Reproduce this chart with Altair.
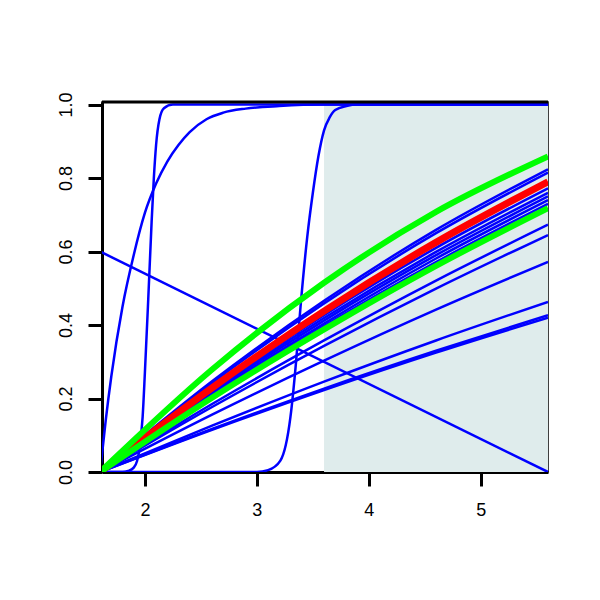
import altair as alt
import pandas as pd

# ---- data ----
x_grid = [1.6, 2.6, 3.6, 4.6, 5.6]

blue_upper1 = [0, 0.247, 0.466, 0.659, 0.824]
blue_upper2 = [0, 0.242, 0.459, 0.650, 0.815]
red_curve = [0, 0.229, 0.438, 0.625, 0.790]
blue_mid1 = [0, 0.224, 0.427, 0.610, 0.772]
blue_mid2 = [0, 0.219, 0.419, 0.599, 0.760]
blue_mid3 = [0, 0.215, 0.412, 0.590, 0.750]
blue_mid4 = [0, 0.211, 0.404, 0.581, 0.740]
blue_mid5 = [0, 0.206, 0.397, 0.571, 0.730]
green_top = [0, 0.279, 0.515, 0.708, 0.859]
green_bottom = [0, 0.202, 0.388, 0.561, 0.718]
blue_low1 = [0, 0.185, 0.358, 0.521, 0.673]
blue_low2 = [0, 0.177, 0.343, 0.499, 0.645]
blue_low3 = [0, 0.156, 0.303, 0.442, 0.572]
blue_low4 = [0, 0.126, 0.246, 0.358, 0.463]
blue_low5 = [0, 0.117, 0.227, 0.330, 0.427]
blue_low6 = [0, 0.115, 0.223, 0.325, 0.420]

# steep curve near x = 2.05
steepA_x = [1.6, 1.8, 1.85, 1.9, 1.93, 1.95, 1.98, 2.0, 2.03, 2.06, 2.08, 2.1, 2.13, 2.17, 2.25, 5.6]
steepA_y = [0, 0, 0.003, 0.012, 0.03, 0.06, 0.15, 0.27, 0.47, 0.68, 0.80, 0.89, 0.96, 0.99, 1.0, 1.0]

# concave fast-rising curve from the origin
fastB_x = [1.6, 1.65, 1.7, 1.8, 1.9, 2.0, 2.1, 2.2, 2.3, 2.4, 2.55, 2.7, 2.9, 3.2, 3.6, 5.6]
fastB_y = [0, 0.14, 0.26, 0.45, 0.59, 0.705, 0.785, 0.845, 0.89, 0.925, 0.96, 0.978, 0.989, 0.996, 1.0, 1.0]

# steep curve near x = 3.4
steepC_x = [1.6, 3.0, 3.1, 3.21, 3.3, 3.35, 3.39, 3.45, 3.5, 3.55, 3.6, 3.65, 3.7, 3.8, 3.9, 5.6]
steepC_y = [0, 0, 0.005, 0.031, 0.15, 0.30, 0.45, 0.64, 0.76, 0.86, 0.93, 0.965, 0.985, 0.996, 1.0, 1.0]

# decreasing straight line
falling_x = [1.6, 5.6]
falling_y = [0.6, 0.0]

shade_x = [3.6, 5.6]
shade_y = [0.0, 1.0]

x_ticks = [2, 3, 4, 5]
y_ticks = [0.0, 0.2, 0.4, 0.6, 0.8, 1.0]

X_DOMAIN = [1.617, 5.6]
Y_DOMAIN = [0, 1.007]

rows = []
def add(name, xs, ys, group):
    for xv, yv in zip(xs, ys):
        rows.append({"id": name, "x": xv, "y": yv, "group": group})

for nm, ys in [("bu1", blue_upper1), ("bu2", blue_upper2), ("bm1", blue_mid1),
               ("bm2", blue_mid2), ("bm3", blue_mid3), ("bm4", blue_mid4),
               ("bm5", blue_mid5), ("bl1", blue_low1), ("bl2", blue_low2),
               ("bl3", blue_low3), ("bl4", blue_low4), ("bl5", blue_low5),
               ("bl6", blue_low6)]:
    add(nm, x_grid, ys, "blue_smooth")
add("A", steepA_x, steepA_y, "blue_steep")
add("B", fastB_x, fastB_y, "blue_steep")
add("C", steepC_x, steepC_y, "blue_steep")
add("F", falling_x, falling_y, "blue_steep")
add("red", x_grid, red_curve, "red")
add("g1", x_grid, green_top, "green")
add("g2", x_grid, green_bottom, "green")
df = pd.DataFrame(rows)

xs = alt.Scale(domain=X_DOMAIN, nice=False, zero=False)
ys = alt.Scale(domain=Y_DOMAIN, nice=False, zero=False)

font = "Liberation Sans"
common = dict(title=None, grid=False, domainColor="black", domainWidth=3,
              tickColor="black", tickWidth=3, tickSize=14, labelFont=font,
              labelFontSize=18, labelColor="black", labelFlush=False,
              labelOverlap=False)
x_axis = alt.Axis(values=x_ticks, labelPadding=15, **common)
y_axis = alt.Axis(values=y_ticks, format=".1f", labelAngle=270,
                  labelAlign="center", labelBaseline="bottom",
                  labelPadding=13, **common)

X = alt.X("x:Q", scale=xs, axis=x_axis)
Y = alt.Y("y:Q", scale=ys, axis=y_axis)

shade_df = pd.DataFrame({"x": [shade_x[0]], "x2": [shade_x[1]],
                         "y": [shade_y[0]], "y2": [shade_y[1]]})
shade = alt.Chart(shade_df).mark_rect(color="#DFECEC").encode(
    x=X, x2="x2:Q", y=Y, y2="y2:Q")

def lines(group, color, width, interp="monotone"):
    return alt.Chart(df[df.group == group]).mark_line(
        color=color, strokeWidth=width, interpolate=interp, clip=True,
        strokeCap="butt").encode(x=X, y=Y, detail="id:N")

blue1 = lines("blue_smooth", "#0000FF", 2.5)
blue2 = lines("blue_steep", "#0000FF", 2.5)
red = lines("red", "#FF0000", 7)
green = lines("green", "#00FF00", 6)

top_frame = alt.Chart(pd.DataFrame({"y": [Y_DOMAIN[1]]})).mark_rule(
    color="black", strokeWidth=3).encode(y=Y)

chart = alt.layer(shade, blue1, blue2, red, green, top_frame).properties(
    width=446, height=370,
    autosize=alt.AutoSizeParams(type="none"),
    padding={"left": 94, "top": 94, "right": 40, "bottom": 110},
).configure_view(stroke="black", strokeWidth=1.5).configure_axis(
    grid=False, domainColor="black", domainWidth=3, tickColor="black",
    tickWidth=3, tickSize=14, labelFont=font, labelFontSize=18,
    labelColor="black", labelFlush=False, labelOverlap=False,
)

chart.save("out.html", embed_options={"renderer": "svg", "actions": False})
